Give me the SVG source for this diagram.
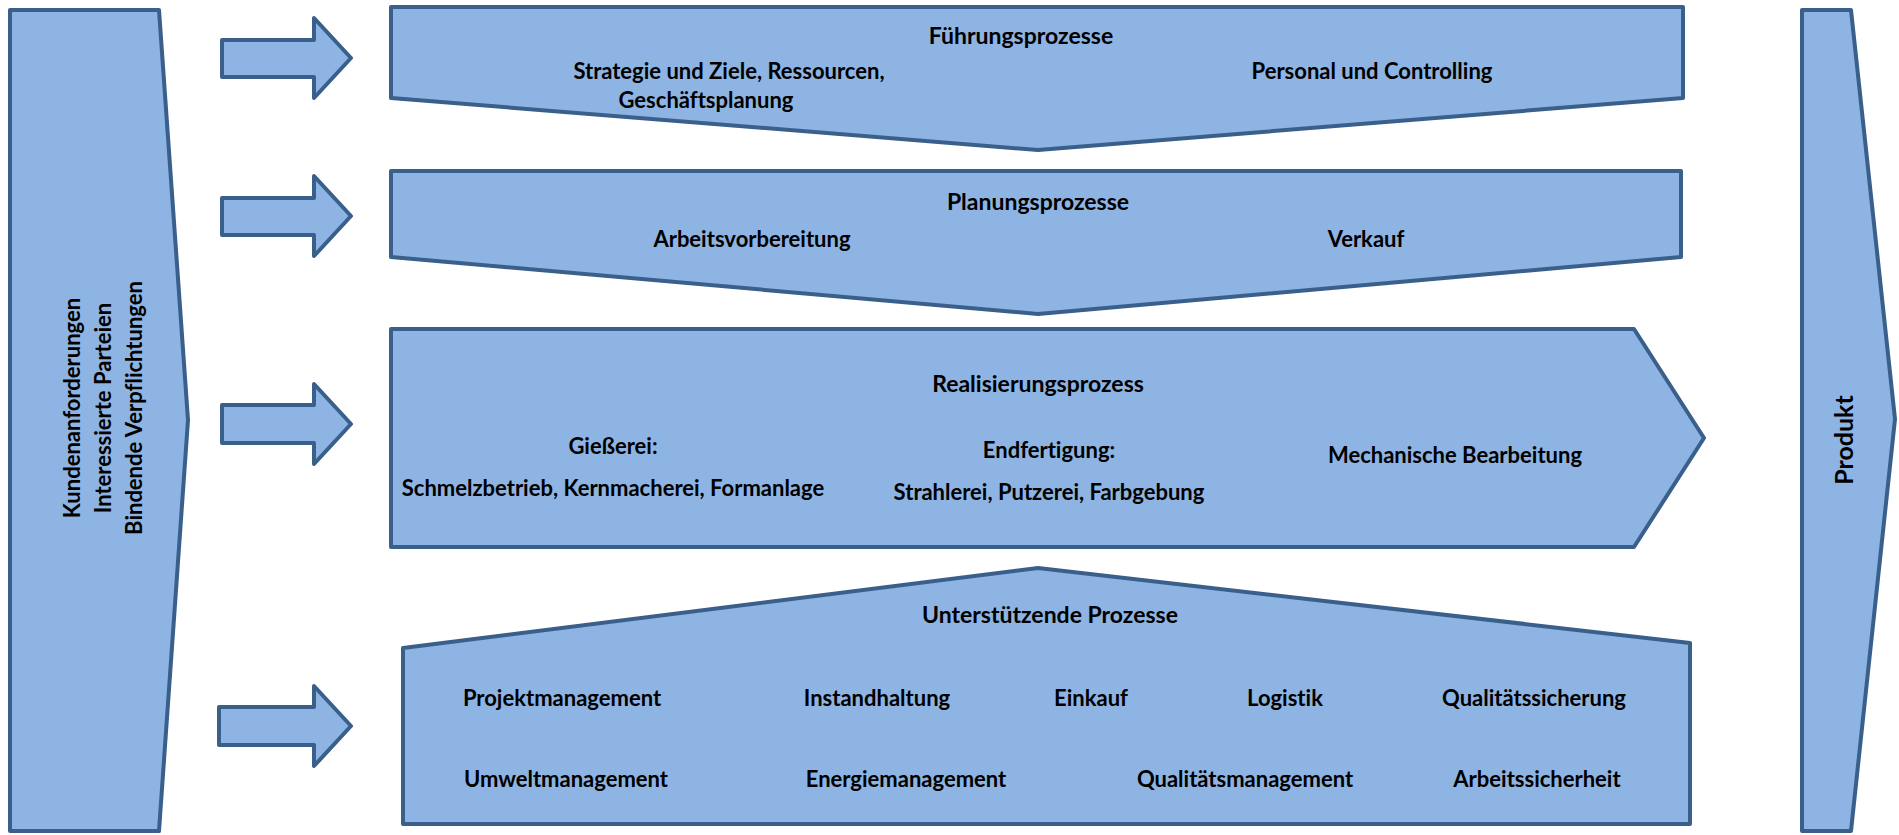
<svg xmlns="http://www.w3.org/2000/svg" width="1899" height="835" viewBox="0 0 1899 835">
<style>
.s{fill:#8EB4E3;stroke:#3A5F8B;stroke-width:4;stroke-linejoin:round}
text{font-family:Lato,"Liberation Sans",sans-serif;font-weight:bold;font-size:22px;fill:#000;text-anchor:middle;font-variant-ligatures:none}
.t{font-size:23px}
.v{font-size:22px;dominant-baseline:central}
.p{font-size:25px;dominant-baseline:central}
</style>
<rect width="1899" height="835" fill="#fff"/>
<g id="left">
<polygon class="s" points="10,10 159,10 188,420 159,831 10,831"/>
<text class="v" transform="translate(71,408) rotate(-90)">Kundenanforderungen</text>
<text class="v" transform="translate(102,408) rotate(-90)">Interessierte Parteien</text>
<text class="v" transform="translate(133,408) rotate(-90)">Bindende Verpflichtungen</text>
</g>
<g id="connectors">
<polygon class="s" points="222,40 314,40 314,18 351,58 314,98 314,77 222,77"/>
<polygon class="s" points="222,198 314,198 314,176 351,216 314,256 314,235 222,235"/>
<polygon class="s" points="222,405 314,405 314,384 351,424 314,464 314,443 222,443"/>
<polygon class="s" points="219,707 314,707 314,686 351,726 314,766 314,745 219,745"/>
</g>
<g id="fuehrung">
<polygon class="s" points="391,7 1683,7 1683,98 1038,150 391,98"/>
<text class="t" x="1021" y="44">Führungsprozesse</text>
<text x="729" y="79">Strategie und Ziele, Ressourcen,</text>
<text x="706" y="108">Geschäftsplanung</text>
<text x="1372" y="79">Personal und Controlling</text>
</g>
<g id="planung">
<polygon class="s" points="391,171 1681,171 1681,257 1038,314 391,257"/>
<text class="t" x="1038" y="210">Planungsprozesse</text>
<text x="752" y="247">Arbeitsvorbereitung</text>
<text x="1366" y="247">Verkauf</text>
</g>
<g id="realisierung">
<polygon class="s" points="391,329 1634,329 1704,438 1634,547 391,547"/>
<text class="t" x="1038" y="392">Realisierungsprozess</text>
<text x="613" y="454">Gießerei:</text>
<text x="613" y="496">Schmelzbetrieb, Kernmacherei, Formanlage</text>
<text x="1049" y="458">Endfertigung:</text>
<text x="1049" y="500">Strahlerei, Putzerei, Farbgebung</text>
<text x="1455" y="463">Mechanische Bearbeitung</text>
</g>
<g id="unterstuetzung">
<polygon class="s" points="403,648 1038,568 1690,643 1690,824 403,824"/>
<text class="t" x="1050" y="623">Unterstützende Prozesse</text>
<text x="562" y="706">Projektmanagement</text>
<text x="877" y="706">Instandhaltung</text>
<text x="1091" y="706">Einkauf</text>
<text x="1285" y="706">Logistik</text>
<text x="1534" y="706">Qualitätssicherung</text>
<text x="566" y="787">Umweltmanagement</text>
<text x="906" y="787">Energiemanagement</text>
<text x="1245" y="787">Qualitätsmanagement</text>
<text x="1537" y="787">Arbeitssicherheit</text>
</g>
<g id="produkt">
<polygon class="s" points="1802,10 1851,10 1895,419 1851,831 1802,831"/>
<text class="p" transform="translate(1843,440) rotate(-90)">Produkt</text>
</g>
</svg>
